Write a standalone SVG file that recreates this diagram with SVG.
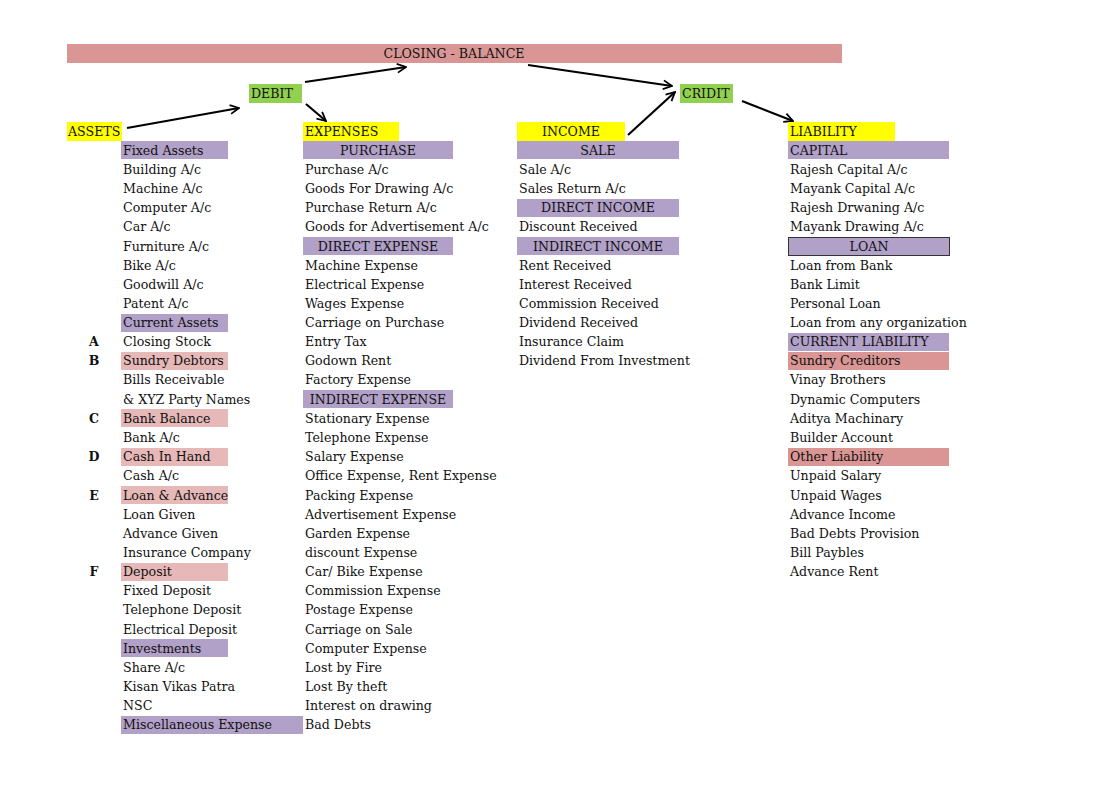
<svg xmlns="http://www.w3.org/2000/svg" width="1119" height="791" viewBox="0 0 1119 791">
<defs>
<style>
text{font-family:"DejaVu Serif","Liberation Serif",serif;font-size:12.6px;fill:#111;}
.c{text-anchor:middle;}
.b{font-weight:bold;}
.pu{fill:#b1a0c7;}
.pk{fill:#e6b8b7;}
.rd{fill:#da9694;}
.ye{fill:#ffff00;}
.gr{fill:#92d050;}
.arr{stroke:#000;stroke-width:2.2;fill:none;marker-end:url(#ah);}
</style>
<marker id="ah" viewBox="0 0 10 10" refX="9" refY="5" markerWidth="5" markerHeight="5" orient="auto" markerUnits="strokeWidth">
<polyline points="1,1 9,5 1,9" fill="none" stroke="#000" stroke-width="1.6"/>
</marker>
</defs>
<rect width="1119" height="791" fill="#fff"/>

<g id="closing-balance">
<rect class="rd" x="67" y="44" width="775" height="19"/>
<text class="c" x="454" y="58">CLOSING - BALANCE</text>
</g>
<g id="debit">
<rect class="gr" x="249" y="84" width="53" height="19"/>
<text x="251" y="98">DEBIT</text>
</g>
<g id="cridit">
<rect class="gr" x="680" y="84" width="53" height="19"/>
<text x="682" y="98">CRIDIT</text>
</g>

<g id="connectors">
<line class="arr" x1="127" y1="128" x2="239" y2="108"/>
<line class="arr" x1="305" y1="82" x2="406" y2="67"/>
<line class="arr" x1="306" y1="104" x2="326" y2="121"/>
<line class="arr" x1="528" y1="65" x2="672" y2="86"/>
<line class="arr" x1="628" y1="135" x2="675" y2="92"/>
<line class="arr" x1="742" y1="101" x2="793" y2="121"/>
</g>

<g id="assets">
<rect class="ye" x="67" y="122" width="55" height="19"/>
<text x="68" y="136">ASSETS</text>
<rect class="pu" x="121" y="141" width="107" height="18"/>
<text x="123" y="155">Fixed Assets</text>
<text x="123" y="174">Building A/c</text>
<text x="123" y="193">Machine A/c</text>
<text x="123" y="212">Computer A/c</text>
<text x="123" y="231">Car A/c</text>
<text x="123" y="251">Furniture A/c</text>
<text x="123" y="270">Bike A/c</text>
<text x="123" y="289">Goodwill A/c</text>
<text x="123" y="308">Patent A/c</text>
<rect class="pu" x="121" y="314" width="107" height="18"/>
<text x="123" y="327">Current Assets</text>
<text class="c b" x="94" y="346">A</text>
<text x="123" y="346">Closing Stock</text>
<rect class="pk" x="121" y="352" width="107" height="18"/>
<text class="c b" x="94" y="365">B</text>
<text x="123" y="365">Sundry Debtors</text>
<text x="123" y="384">Bills Receivable</text>
<text x="123" y="404">&amp; XYZ Party Names</text>
<rect class="pk" x="121" y="409" width="107" height="18"/>
<text class="c b" x="94" y="423">C</text>
<text x="123" y="423">Bank Balance</text>
<text x="123" y="442">Bank A/c</text>
<rect class="pk" x="121" y="448" width="107" height="18"/>
<text class="c b" x="94" y="461">D</text>
<text x="123" y="461">Cash In Hand</text>
<text x="123" y="480">Cash A/c</text>
<rect class="pk" x="121" y="486" width="107" height="18"/>
<text class="c b" x="94" y="500">E</text>
<text x="123" y="500">Loan &amp; Advance</text>
<text x="123" y="519">Loan Given</text>
<text x="123" y="538">Advance Given</text>
<text x="123" y="557">Insurance Company</text>
<rect class="pk" x="121" y="563" width="107" height="18"/>
<text class="c b" x="94" y="576">F</text>
<text x="123" y="576">Deposit</text>
<text x="123" y="595">Fixed Deposit</text>
<text x="123" y="614">Telephone Deposit</text>
<text x="123" y="634">Electrical Deposit</text>
<rect class="pu" x="121" y="639" width="107" height="18"/>
<text x="123" y="653">Investments</text>
<text x="123" y="672">Share A/c</text>
<text x="123" y="691">Kisan Vikas Patra</text>
<text x="123" y="710">NSC</text>
<rect class="pu" x="121" y="716" width="182" height="18"/>
<text x="123" y="729">Miscellaneous Expense</text>
</g>

<g id="expenses">
<rect class="ye" x="303" y="122" width="96" height="19"/>
<text x="305" y="136">EXPENSES</text>
<rect class="pu" x="303" y="141" width="150" height="18"/>
<text class="c" x="378" y="155">PURCHASE</text>
<text x="305" y="174">Purchase A/c</text>
<text x="305" y="193">Goods For Drawing A/c</text>
<text x="305" y="212">Purchase Return A/c</text>
<text x="305" y="231">Goods for Advertisement A/c</text>
<rect class="pu" x="303" y="237" width="150" height="18"/>
<text class="c" x="378" y="251">DIRECT EXPENSE</text>
<text x="305" y="270">Machine Expense</text>
<text x="305" y="289">Electrical Expense</text>
<text x="305" y="308">Wages Expense</text>
<text x="305" y="327">Carriage on Purchase</text>
<text x="305" y="346">Entry Tax</text>
<text x="305" y="365">Godown Rent</text>
<text x="305" y="384">Factory Expense</text>
<rect class="pu" x="303" y="390" width="150" height="18"/>
<text class="c" x="378" y="404">INDIRECT EXPENSE</text>
<text x="305" y="423">Stationary Expense</text>
<text x="305" y="442">Telephone Expense</text>
<text x="305" y="461">Salary Expense</text>
<text x="305" y="480">Office Expense, Rent Expense</text>
<text x="305" y="500">Packing Expense</text>
<text x="305" y="519">Advertisement Expense</text>
<text x="305" y="538">Garden Expense</text>
<text x="305" y="557">discount Expense</text>
<text x="305" y="576">Car/ Bike Expense</text>
<text x="305" y="595">Commission Expense</text>
<text x="305" y="614">Postage Expense</text>
<text x="305" y="634">Carriage on Sale</text>
<text x="305" y="653">Computer Expense</text>
<text x="305" y="672">Lost by Fire</text>
<text x="305" y="691">Lost By theft</text>
<text x="305" y="710">Interest on drawing</text>
<text x="305" y="729">Bad Debts</text>
</g>

<g id="income">
<rect class="ye" x="517" y="122" width="108" height="19"/>
<text class="c" x="571" y="136">INCOME</text>
<rect class="pu" x="517" y="141" width="162" height="18"/>
<text class="c" x="598" y="155">SALE</text>
<text x="519" y="174">Sale A/c</text>
<text x="519" y="193">Sales Return A/c</text>
<rect class="pu" x="517" y="199" width="162" height="18"/>
<text class="c" x="598" y="212">DIRECT INCOME</text>
<text x="519" y="231">Discount Received</text>
<rect class="pu" x="517" y="237" width="162" height="18"/>
<text class="c" x="598" y="251">INDIRECT INCOME</text>
<text x="519" y="270">Rent Received</text>
<text x="519" y="289">Interest Received</text>
<text x="519" y="308">Commission Received</text>
<text x="519" y="327">Dividend Received</text>
<text x="519" y="346">Insurance Claim</text>
<text x="519" y="365">Dividend From Investment</text>
</g>

<g id="liability">
<rect class="ye" x="788" y="122" width="107" height="19"/>
<text x="790" y="136">LIABILITY</text>
<rect class="pu" x="788" y="141" width="161" height="18"/>
<text x="790" y="155">CAPITAL</text>
<text x="790" y="174">Rajesh Capital A/c</text>
<text x="790" y="193">Mayank Capital A/c</text>
<text x="790" y="212">Rajesh Drwaning A/c</text>
<text x="790" y="231">Mayank Drawing A/c</text>
<rect class="pu" x="788.5" y="237.5" width="161" height="18" stroke="#333" stroke-width="1"/>
<text class="c" x="869" y="251">LOAN</text>
<text x="790" y="270">Loan from Bank</text>
<text x="790" y="289">Bank Limit</text>
<text x="790" y="308">Personal Loan</text>
<text x="790" y="327">Loan from any organization</text>
<rect class="pu" x="788" y="333" width="161" height="18"/>
<text x="790" y="346">CURRENT LIABILITY</text>
<rect class="rd" x="788" y="352" width="161" height="18"/>
<text x="790" y="365">Sundry Creditors</text>
<text x="790" y="384">Vinay Brothers</text>
<text x="790" y="404">Dynamic Computers</text>
<text x="790" y="423">Aditya Machinary</text>
<text x="790" y="442">Builder Account</text>
<rect class="rd" x="788" y="448" width="161" height="18"/>
<text x="790" y="461">Other Liability</text>
<text x="790" y="480">Unpaid Salary</text>
<text x="790" y="500">Unpaid Wages</text>
<text x="790" y="519">Advance Income</text>
<text x="790" y="538">Bad Debts Provision</text>
<text x="790" y="557">Bill Paybles</text>
<text x="790" y="576">Advance Rent</text>
</g>
</svg>
